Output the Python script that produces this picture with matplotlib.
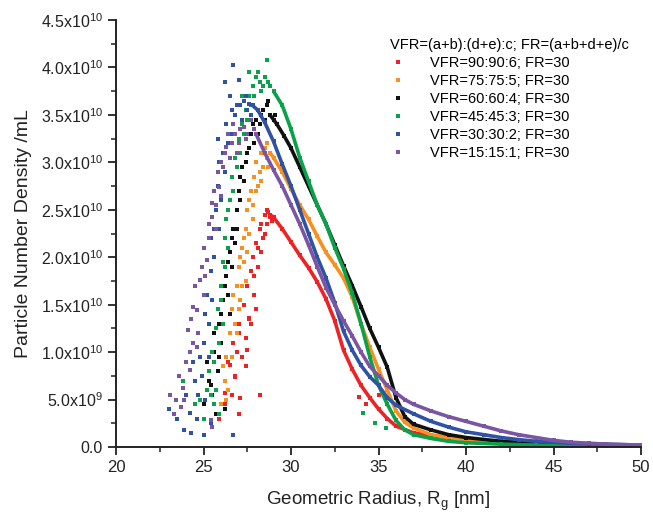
import numpy as np
import matplotlib
matplotlib.use("Agg")
import matplotlib.pyplot as plt
from matplotlib.lines import Line2D
from matplotlib.ticker import FuncFormatter, MultipleLocator

plt.rcParams['font.family'] = ['Liberation Sans', 'DejaVu Sans']
plt.rcParams['mathtext.fontset'] = 'custom'
plt.rcParams['mathtext.rm'] = 'Liberation Sans'

# ---------------- data (y in units of 1e10 particles/mL) ----------------
SCALE = 1e10
labels = ["VFR=90:90:6; FR=30", "VFR=75:75:5; FR=30", "VFR=60:60:4; FR=30",
          "VFR=45:45:3; FR=30", "VFR=30:30:2; FR=30", "VFR=15:15:1; FR=30"]
colors = ["#ED2224", "#F7901E", "#111111", "#0AA14B", "#2F52A4", "#7A55A3"]
legend_title = "VFR=(a+b):(d+e):c; FR=(a+b+d+e)/c"

# scattered rising part
red_rise_x = [25.9, 26.2, 26.4, 26.6, 26.7, 26.8, 27.0, 27.0, 27.2, 27.3, 27.4, 27.5, 27.6, 27.7,
              27.8, 27.9, 28.0, 28.1, 28.2, 28.2, 28.4, 28.5, 28.6, 28.7, 28.8, 33.9, 34.3, 35.0,
              27.5, 27.6, 27.0, 27.1, 26.8, 26.5, 26.2, 26.9, 27.7, 28.0, 28.3, 28.3, 28.5, 28.6,
              28.9, 27.9, 28.1, 27.4]
red_rise_y = [0.30, 0.45, 0.90, 0.55, 1.10, 0.75, 1.30, 0.35, 0.95, 1.50, 1.15, 1.70, 1.35, 1.85,
              2.00, 1.60, 2.15, 1.90, 2.30, 0.55, 2.20, 2.45, 2.35, 2.48, 2.42, 0.53, 0.45, 0.55,
              1.02, 1.36, 1.20, 0.52, 0.74, 0.86, 0.57, 1.00, 1.30, 1.45, 2.05, 2.35, 2.25, 2.50,
              2.38, 1.80, 2.10, 0.85]
orange_rise_x = [26.0, 26.2, 26.3, 26.5, 26.4, 26.6, 26.8, 26.9, 27.0, 27.1, 27.2, 27.4, 27.3,
                 27.5, 27.6, 27.7, 27.8, 27.9, 28.0, 28.1, 28.3, 28.4, 28.5, 28.6, 28.8, 36.0,
                 26.1, 26.3, 26.6, 26.7, 26.9, 27.0, 27.1, 27.3, 27.5, 27.6, 27.8, 28.0, 28.2,
                 28.3, 28.6, 28.7, 27.2, 27.4]
orange_rise_y = [0.45, 0.70, 0.95, 1.20, 0.60, 1.45, 1.30, 1.70, 1.90, 1.55, 2.10, 2.30, 1.95,
                 2.50, 2.25, 2.70, 2.55, 2.85, 3.00, 2.75, 3.10, 2.95, 3.15, 3.05, 3.10, 0.55,
                 0.85, 0.50, 0.95, 1.60, 1.20, 1.45, 2.00, 2.20, 2.05, 2.60, 2.40, 2.70, 2.90,
                 2.80, 3.20, 2.95, 1.70, 1.75]
black_rise_x = [25.0, 25.3, 25.5, 25.6, 25.8, 25.9, 26.0, 26.1, 26.2, 26.3, 26.4, 26.5, 26.6, 26.7,
                26.8, 26.9, 27.0, 27.2, 27.3, 27.5, 27.7, 27.9, 28.0, 28.2, 28.4, 28.6, 28.8, 29.0,
                25.2, 25.4, 25.6, 25.7, 25.9, 26.0, 26.2, 26.4, 26.5, 26.6, 26.9, 27.1, 27.1,
                27.4, 27.6, 27.8, 28.1, 28.3, 28.5, 28.7, 29.1]
black_rise_y = [0.45, 0.70, 0.55, 1.00, 0.80, 1.30, 1.10, 1.55, 0.40, 1.80, 1.60, 2.05, 1.90, 2.30,
                2.15, 2.50, 2.70, 2.95, 2.80, 3.10, 3.30, 3.20, 3.45, 3.40, 3.55, 3.60, 3.50, 3.45,
                0.90, 0.65, 1.20, 0.35, 0.95, 1.40, 1.70, 1.95, 1.40, 2.20, 2.30, 2.60, 2.85,
                3.00, 3.15, 3.40, 3.30, 3.50, 3.45, 3.65, 3.50]
green_rise_x = [23.8, 24.8, 25.3, 25.6, 25.5, 25.7, 25.8, 25.9, 26.0, 26.1, 26.2, 26.3, 26.5, 26.6,
                26.8, 27.0, 27.2, 27.4, 27.6, 27.8, 28.0, 28.2, 28.4, 28.6, 28.8, 34.1, 34.8, 35.4,
                24.5, 25.0, 25.2, 25.4, 25.6, 25.7, 25.9, 26.0, 26.1, 26.2, 26.4, 26.4, 26.7,
                26.9, 27.1, 27.3, 27.5, 27.7, 27.9, 28.1, 28.3, 28.5, 28.7, 27.2, 27.6]
green_rise_y = [0.70, 0.50, 0.80, 0.45, 1.00, 1.25, 1.45, 0.35, 1.70, 1.95, 2.20, 2.40, 2.60, 2.85,
                3.05, 3.25, 3.40, 3.55, 3.70, 3.80, 3.90, 3.85, 3.80, 4.08, 3.80, 0.36, 0.25, 0.20,
                0.45, 0.30, 0.60, 0.55, 0.90, 0.60, 1.10, 1.55, 1.30, 1.90, 2.10, 2.50, 2.70,
                2.95, 3.10, 3.30, 3.45, 3.60, 3.70, 3.95, 3.75, 3.90, 3.85, 3.70, 3.95]
blue_rise_x = [23.0, 23.9, 24.2, 24.5, 24.6, 24.8, 25.0, 25.0, 25.1, 25.3, 25.2, 25.4, 25.4, 25.6,
               25.7, 25.8, 25.9, 25.8, 26.1, 26.3, 26.5, 26.7, 26.8, 27.0, 27.1, 27.3, 27.5, 26.7,
               23.5, 24.0, 24.3, 24.4, 24.7, 24.9, 25.1, 25.3, 25.5, 25.6, 25.9, 26.0, 26.2,
               26.4, 26.6, 26.6, 26.9, 27.2, 27.4, 27.6, 27.7, 26.2, 25.4]
blue_rise_y = [0.40, 0.18, 0.36, 0.70, 0.30, 0.95, 0.13, 1.10, 0.50, 1.30, 1.60, 1.85, 2.20, 2.00,
               2.50, 2.75, 3.00, 3.25, 3.10, 3.40, 3.70, 4.03, 3.50, 3.87, 3.60, 3.65, 3.55, 0.13,
               0.30, 0.55, 0.15, 0.90, 0.55, 0.75, 1.40, 0.95, 1.55, 2.30, 2.30, 2.60, 2.90,
               3.20, 3.30, 3.55, 3.60, 3.45, 3.70, 3.62, 3.50, 3.85, 0.25]
purple_rise_x = [23.1, 23.3, 23.7, 23.8, 24.0, 24.2, 24.1, 24.4, 24.4, 24.6, 24.7, 24.8, 25.0, 25.2,
                 25.3, 25.5, 25.4, 25.5, 25.5, 25.7, 25.9, 26.0, 26.1, 26.3, 26.5, 26.8, 27.0, 27.3,
                 27.5, 27.7, 23.4, 23.6, 23.9, 24.2, 24.3, 24.5, 24.6, 24.9, 25.0, 25.1, 25.3,
                 25.6, 25.7, 25.8, 26.0, 26.2, 26.4, 26.6, 26.7, 27.1, 27.4, 27.9, 26.9]
purple_rise_y = [0.55, 0.35, 0.42, 0.62, 0.90, 0.81, 1.23, 1.10, 1.48, 1.44, 1.20, 1.76, 1.60, 1.97,
                 2.20, 2.42, 0.28, 0.21, 2.57, 2.30, 2.74, 3.00, 2.95, 3.16, 3.05, 3.30, 3.20, 3.37,
                 3.30, 3.45, 0.50, 0.75, 0.50, 1.00, 1.35, 1.70, 1.05, 1.90, 2.10, 1.80, 2.35,
                 2.70, 2.55, 2.90, 2.65, 3.10, 3.30, 3.20, 3.40, 3.35, 3.25, 3.35, 3.10]

# smoother falling part
red_fall_x = [28.8, 29.0, 29.5, 30.0, 30.5, 31.0, 31.5, 32.0, 32.5, 33.0, 33.5, 34.0, 34.5, 35.0,
              35.5, 36.0, 37.0, 38.0, 39.0, 40.0, 42.0, 44.0, 46.0, 48.0, 50.0]
red_fall_y = [2.45, 2.42, 2.30, 2.16, 2.02, 1.89, 1.74, 1.56, 1.33, 1.02, 0.82, 0.65, 0.52, 0.40,
              0.30, 0.22, 0.15, 0.12, 0.10, 0.08, 0.055, 0.035, 0.02, 0.01, 0.005]
orange_fall_x = [28.8, 29.0, 29.5, 30.0, 30.5, 31.0, 31.5, 32.0, 32.5, 33.0, 33.5, 34.0, 34.5, 35.0,
                 35.5, 36.0, 36.5, 37.0, 38.0, 39.0, 40.0, 42.0, 44.0, 46.0, 48.0, 50.0]
orange_fall_y = [3.10, 3.05, 2.90, 2.72, 2.55, 2.40, 2.22, 2.05, 1.92, 1.78, 1.58, 1.30, 1.05, 0.82,
                 0.60, 0.38, 0.26, 0.20, 0.13, 0.10, 0.08, 0.05, 0.035, 0.02, 0.01, 0.005]
black_fall_x = [28.8, 29.2, 29.6, 30.0, 30.5, 31.0, 31.5, 32.0, 32.5, 33.0, 33.5, 34.0, 34.5, 35.0,
                35.5, 36.0, 36.5, 37.0, 38.0, 39.0, 40.0, 42.0, 44.0, 46.0, 48.0, 50.0]
black_fall_y = [3.50, 3.40, 3.28, 3.15, 2.95, 2.75, 2.55, 2.35, 2.13, 1.91, 1.70, 1.48, 1.25, 1.05,
                0.84, 0.52, 0.32, 0.24, 0.18, 0.13, 0.10, 0.06, 0.04, 0.02, 0.01, 0.005]
green_fall_x = [29.0, 29.5, 30.0, 30.5, 31.0, 31.5, 32.0, 32.5, 33.0, 33.5, 34.0, 34.5, 35.0, 35.5,
                36.0, 36.5, 37.0, 38.0, 39.0, 40.0, 42.0, 44.0, 46.0, 48.0, 50.0]
green_fall_y = [3.75, 3.60, 3.35, 3.05, 2.80, 2.55, 2.35, 2.10, 1.88, 1.62, 1.30, 0.95, 0.65, 0.45,
                0.28, 0.18, 0.13, 0.09, 0.06, 0.045, 0.03, 0.02, 0.01, 0.005, 0.003]
blue_fall_x = [27.8, 28.1, 28.5, 29.0, 29.5, 30.0, 30.5, 31.0, 31.5, 32.0, 32.5, 33.0, 33.5, 34.0,
               34.5, 35.0, 35.5, 36.0, 37.0, 38.0, 39.0, 40.0, 41.0, 42.0, 43.0, 44.0, 45.0, 46.0,
               47.0, 48.0, 49.0, 50.0]
blue_fall_y = [3.60, 3.55, 3.42, 3.22, 2.98, 2.75, 2.50, 2.25, 2.00, 1.78, 1.52, 1.22, 1.02, 0.86,
               0.74, 0.65, 0.52, 0.44, 0.35, 0.27, 0.21, 0.16, 0.13, 0.10, 0.078, 0.06, 0.05, 0.04,
               0.035, 0.03, 0.025, 0.02]
purple_fall_x = [28.0, 28.5, 29.0, 29.5, 30.0, 30.5, 31.0, 31.5, 32.0, 32.5, 33.0, 33.5, 34.0, 34.5,
                 35.0, 35.5, 36.0, 36.5, 37.0, 38.0, 39.0, 40.0, 41.0, 42.0, 43.0, 44.0, 45.0, 46.0,
                 47.0, 48.0, 49.0, 50.0]
purple_fall_y = [3.30, 3.10, 2.92, 2.75, 2.55, 2.35, 2.13, 1.90, 1.68, 1.50, 1.33, 1.17, 1.00, 0.85,
                 0.75, 0.65, 0.57, 0.50, 0.45, 0.38, 0.32, 0.27, 0.22, 0.17, 0.13, 0.10, 0.07, 0.05,
                 0.04, 0.03, 0.025, 0.02]

rise = [(red_rise_x, red_rise_y), (orange_rise_x, orange_rise_y), (black_rise_x, black_rise_y),
        (green_rise_x, green_rise_y), (blue_rise_x, blue_rise_y), (purple_rise_x, purple_rise_y)]
fall = [(red_fall_x, red_fall_y), (orange_fall_x, orange_fall_y), (black_fall_x, black_fall_y),
        (green_fall_x, green_fall_y), (blue_fall_x, blue_fall_y), (purple_fall_x, purple_fall_y)]

xticks = [20, 25, 30, 35, 40, 45, 50]

# ---------------- figure ----------------
fig = plt.figure(figsize=(6.53, 5.14), dpi=100)
ax = fig.add_axes([116 / 653, 67 / 514, 525 / 653, 427 / 514])

for (rx, ry), (fx, fy), c in zip(rise, fall, colors):
    ax.plot(fx, np.array(fy) * SCALE, '-', color=c, lw=2.6, solid_capstyle='butt', zorder=2)
    ax.plot(fx, np.array(fy) * SCALE, 's', color=c, ms=3.4, mew=0, zorder=2)
    ax.plot(rx, np.array(ry) * SCALE, 's', color=c, ms=3.0, mew=0, ls='none', zorder=2)

ax.set_xlim(20, 50)
ax.set_ylim(0, 4.5e10)
ax.set_xticks(xticks)
ax.xaxis.set_minor_locator(MultipleLocator(2.5))
ax.yaxis.set_major_locator(MultipleLocator(0.5e10))
ax.yaxis.set_minor_locator(MultipleLocator(0.25e10))


def yfmt(v, pos):
    if v < 0:
        return ""
    if abs(v) < 1:
        return "0.0"
    e = int(np.floor(np.log10(v) + 1e-9))
    m = v / 10 ** e
    return f"{m:.1f}x10" + r"$^{\mathregular{" + str(e) + "}}$"


ax.yaxis.set_major_formatter(FuncFormatter(yfmt))

for s in ['top', 'right']:
    ax.spines[s].set_visible(False)
for s in ['left', 'bottom']:
    ax.spines[s].set_linewidth(1.4)
    ax.spines[s].set_color('#222222')

ax.tick_params(which='major', direction='out', length=6, width=1.3, labelsize=12, colors='#222222')
ax.tick_params(which='minor', direction='out', length=3.5, width=1.1, colors='#222222')
ax.tick_params(axis='y', labelsize=11.5)

ax.set_xlabel(r"Geometric Radius, R$_{\mathregular{g}}$ [nm]", fontsize=13.5, labelpad=10, color='#222222')
ax.set_ylabel("Particle Number Density /mL", fontsize=14, labelpad=6, color='#222222')

handles = [Line2D([], [], marker='s', ls='none', color=c, ms=3.0, mew=0) for c in colors]
leg = fig.legend(handles, labels, title=legend_title, loc='upper left',
                 bbox_to_anchor=(383 / 653, 1 - 31 / 514), frameon=False, fontsize=10.5,
                 title_fontsize=10.5, handletextpad=1.75, labelspacing=0.27, borderpad=0,
                 handlelength=1.0, alignment='left')

fig.savefig("out.png", dpi=100)
